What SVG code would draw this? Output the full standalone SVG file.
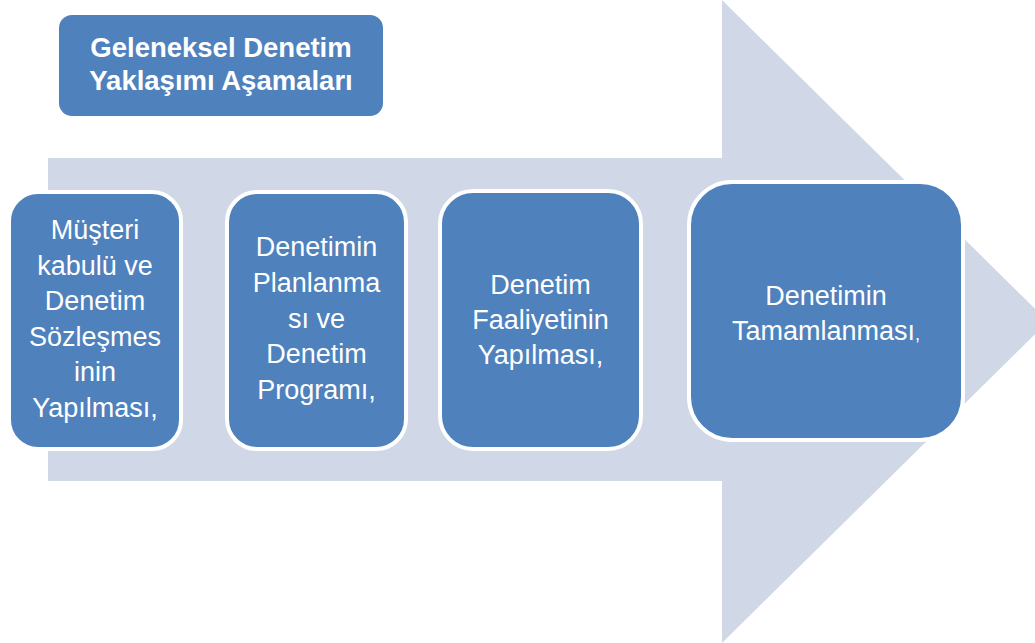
<svg xmlns="http://www.w3.org/2000/svg" width="1035" height="643" viewBox="0 0 1035 643">
  <style>
    .bg { fill: #d0d8e8; }
    .box { fill: #4f81bd; stroke: #ffffff; stroke-width: 4; }
    .title { fill: #4f81bd; }
    .t { font-family: "Liberation Sans", Arial, sans-serif; font-size: 27px; fill: #ffffff; text-anchor: middle; }
    .tb { font-family: "Liberation Sans", Arial, sans-serif; font-size: 27.5px; font-weight: bold; fill: #ffffff; text-anchor: middle; }
  </style>
  <rect width="1035" height="643" fill="#ffffff"/>
  <g id="arrow">
    <polygon class="bg" points="48,158 722,158 722,0 1048,321.5 722,643 722,481 48,481"/>
  </g>
  <g id="connectors"></g>
  <g id="title">
    <rect class="title" x="59" y="15" width="324" height="101" rx="13"/>
    <text class="tb" x="221" y="57">Geleneksel Denetim</text>
    <text class="tb" x="221" y="90">Yaklaşımı Aşamaları</text>
  </g>
  <g id="node1">
    <rect class="box" x="9" y="192" width="172" height="257" rx="29"/>
    <text class="t" x="95" y="239">Müşteri</text>
    <text class="t" x="95" y="274.5">kabulü ve</text>
    <text class="t" x="95" y="310">Denetim</text>
    <text class="t" x="95" y="345.5">Sözleşmes</text>
    <text class="t" x="95" y="381">inin</text>
    <text class="t" x="95" y="416.5">Yapılması,</text>
  </g>
  <g id="node2">
    <rect class="box" x="227" y="192" width="179" height="257" rx="30"/>
    <text class="t" x="316.5" y="256">Denetimin</text>
    <text class="t" x="316.5" y="292">Planlanma</text>
    <text class="t" x="316.5" y="327.5">sı ve</text>
    <text class="t" x="316.5" y="363">Denetim</text>
    <text class="t" x="316.5" y="398.5">Programı,</text>
  </g>
  <g id="node3">
    <rect class="box" x="440" y="191" width="201" height="258" rx="33"/>
    <text class="t" x="540.5" y="294">Denetim</text>
    <text class="t" x="540.5" y="329">Faaliyetinin</text>
    <text class="t" x="540.5" y="364">Yapılması,</text>
  </g>
  <g id="node4">
    <rect class="box" x="689" y="182" width="274" height="258" rx="43"/>
    <text class="t" x="826" y="305">Denetimin</text>
    <text class="t" x="826" y="340">Tamamlanması<tspan font-size="18px">,</tspan></text>
  </g>
</svg>
